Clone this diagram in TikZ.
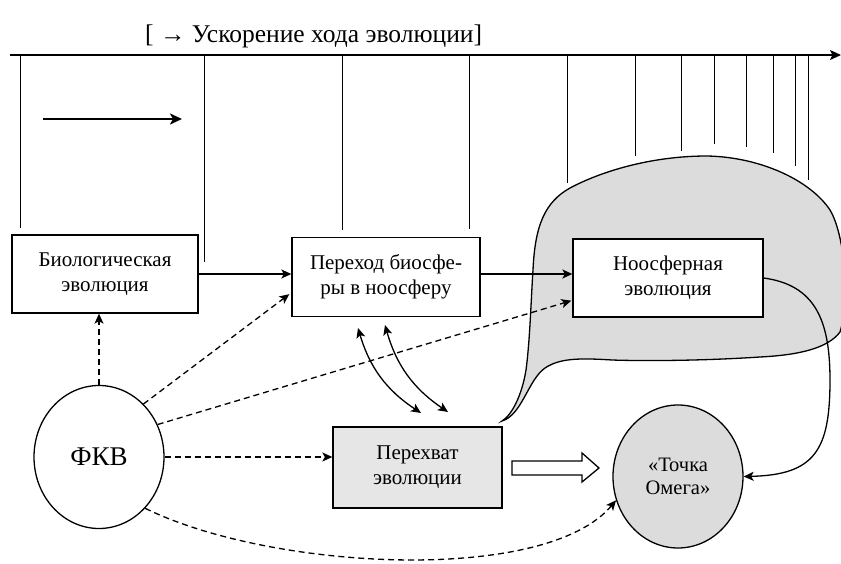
\documentclass[tikz,border=0pt]{standalone}
\usepackage{fontspec}
\setmainfont{Liberation Serif}
\usetikzlibrary{arrows.meta,calc,shapes.geometric}
\definecolor{blobgray}{HTML}{DCDCDC}
\definecolor{boxgray}{HTML}{E6E6E6}
\begin{document}
\begin{tikzpicture}[x=1pt,y=-1pt,
  boxnode/.style={draw,line width=1.3pt,inner sep=0pt,align=center,fill=white,font=\fontsize{21}{25}\selectfont},
  ellnode/.style={draw,ellipse,line width=1.3pt,inner sep=0pt,minimum width=130pt,minimum height=143pt,align=center},
  conn/.style={line width=1.3pt,-{Stealth[length=10pt,width=9pt,inset=2.5pt]}},
  dconn/.style={conn,dash pattern=on 6pt off 4pt},
  tickline/.style={line width=0.8pt}]
\useasboundingbox (0,0) rectangle (841,564);
% axis and ticks
\coordinate (ax0) at (10,55);
\coordinate (ax1) at (841,55);
\draw[line width=1.2pt,-{Stealth[length=11pt,width=10pt,inset=2.5pt]}] (ax0) -- (ax1);
\foreach \x/\yb in {20/228,204/262,342/230,469/229,567/183,635/156,681/151,714/144,746/147,773/153,795/166,808/180}
  \draw[tickline] (\x,55) -- (\x,\yb);
\node[anchor=base west,inner sep=0pt,font=\fontsize{25.5}{30}\selectfont] (title) at (145,43) {[ → Ускорение хода эволюции]};
% small arrow
\coordinate (sa0) at (43,119);
\coordinate (sa1) at (182,119);
\draw[line width=2.2pt,-{Stealth[length=12pt,width=11pt,inset=3pt]}] (sa0) -- (sa1);
% blob
\fill[blobgray,draw=black,line width=1.3pt]
  (502,421) .. controls (512,415) and (522,395) .. (526,370)
  .. controls (530,340) and (531,300) .. (533,270)
  .. controls (535,225) and (545,202) .. (570,188)
  .. controls (600,172) and (650,156) .. (707,156)
  .. controls (760,157) and (810,180) .. (830,210)
  .. controls (845,235) and (850,300) .. (840,332)
  .. controls (828,348) and (800,355) .. (760,357)
  .. controls (700,361) and (640,361) .. (612,360)
  .. controls (580,358) and (560,358) .. (545,368)
  .. controls (528,380) and (522,415) .. (502,421) -- cycle;
% nodes
\node[boxnode,minimum width=186pt,minimum height=78pt] (bio) at (105,274) {Биологическая\\эволюция};
\node[boxnode,minimum width=188pt,minimum height=79pt] (trans) at (386,277) {Переход биосфе-\\ры в ноосферу};
\node[boxnode,minimum width=190pt,minimum height=78pt] (noo) at (668,278) {Ноосферная\\эволюция};
\node[boxnode,fill=boxgray,minimum width=169pt,minimum height=81pt] (perekh) at (417.5,467.5) {Перехват\\эволюции};
\node[ellnode,font=\fontsize{27}{30}\selectfont] (fkv) at (99,457) {ФКВ};
\node[ellnode,fill=blobgray,font=\fontsize{20.5}{23}\selectfont] (omega) at (678,476.5) {«Точка\\Омега»};
% solid arrows
\draw[conn] (bio.east) -- (bio.east -| trans.west);
\draw[conn] ($(trans.east)+(0,-3)$) -- ($(trans.east -| noo.west)+(0,-3)$);
\draw[conn] (noo.east) .. controls (815,285) and (830,320) .. (830,380)
  .. controls (830,450) and (815,475) .. (omega.east);
% double curved arrows
\coordinate (d1a) at (358,328);
\coordinate (d1b) at (421,413);
\coordinate (d2a) at (385,325);
\coordinate (d2b) at (448,412);
\draw[line width=1.3pt,{Stealth[length=10pt,width=9pt,inset=2.5pt]}-{Stealth[length=10pt,width=9pt,inset=2.5pt]}] (d1a) to[bend right=20] (d1b);
\draw[line width=1.3pt,{Stealth[length=10pt,width=9pt,inset=2.5pt]}-{Stealth[length=10pt,width=9pt,inset=2.5pt]}] (d2a) to[bend right=20] (d2b);
% dashed arrows from FKV
\draw[dconn] (fkv.north) -- (fkv.north |- bio.south);
\draw[dconn] (fkv.50) -- ($(trans.south west)+(-2,-23)$);
\draw[dconn] (fkv.29) -- ($(noo.south west)+(-1,-17)$);
\draw[dconn] (fkv.east) -- (fkv.east -| perekh.west);
\draw[dconn] (fkv.-48) .. controls (270,570) and (545,585) .. (omega.201);
% hollow arrow
\draw[line width=1.3pt,fill=white] (512,461) -- (582,461) -- (582,453) -- (599,468) -- (582,482) -- (582,475) -- (512,475) -- cycle;
\end{tikzpicture}
\end{document}
